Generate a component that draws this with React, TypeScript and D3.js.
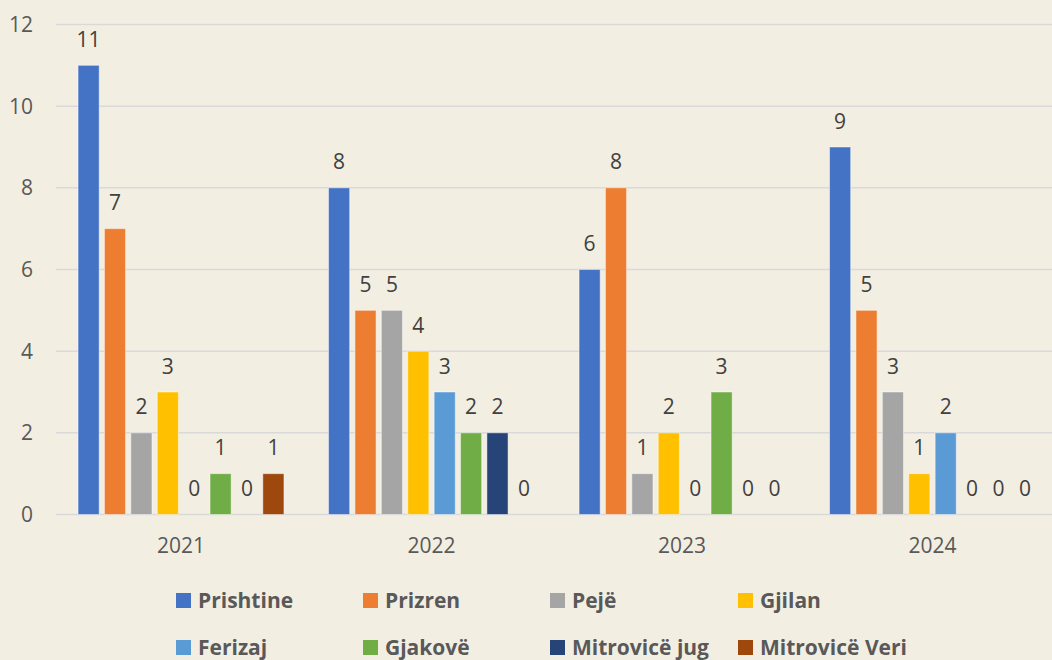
import * as d3 from "d3";
import React, { useRef, useEffect } from "react";

const years = ["2021", "2022", "2023", "2024"];
const cities = ["Prishtine", "Prizren", "Pejë", "Gjilan", "Ferizaj", "Gjakovë", "Mitrovicë jug", "Mitrovicë Veri"];
const colors = ["#4472C4", "#ED7D31", "#A5A5A5", "#FFC000", "#5B9BD5", "#70AD47", "#264478", "#9E480E"];
// one row per year, one value per city
const counts = [
  [11, 7, 2, 3, 0, 1, 0, 1],
  [8, 5, 5, 4, 3, 2, 2, 0],
  [6, 8, 1, 2, 0, 3, 0, 0],
  [9, 5, 3, 1, 2, 0, 0, 0],
];
const yTicks = [0, 2, 4, 6, 8, 10, 12];

function App() {
  const ref = useRef<SVGSVGElement>(null);

  useEffect(() => {
    const svg = d3.select(ref.current);
    svg.selectAll("*").remove();
    draw(svg);
  }, []);

  const draw = (svg: any) => {
    const W = 1052, H = 660;
    const left = 55.75, right = 1057.75, top = 24.5, bottom = 514.5;
    const font = "'Open Sans', 'Liberation Sans', sans-serif";

    svg.append("rect").attr("width", W).attr("height", H).attr("fill", "#F3EEE2");

    const x0 = d3.scaleBand().domain(years).range([left, right]);
    const x1 = d3.scaleBand().domain(cities).range([0, x0.bandwidth()])
      .paddingInner(0.2).paddingOuter(0.845);
    const y = d3.scaleLinear().domain([0, 12]).range([bottom, top]);

    // gridlines
    svg.append("g").selectAll("line").data(yTicks).enter().append("line")
      .attr("x1", left).attr("x2", W)
      .attr("y1", (d: number) => y(d)).attr("y2", (d: number) => y(d))
      .attr("stroke", "#D9D9D9").attr("stroke-width", 1.5);

    // y labels
    svg.append("g").selectAll("text").data(yTicks).enter().append("text")
      .attr("x", 33).attr("y", (d: number) => y(d) + 7.5)
      .attr("text-anchor", "end")
      .style("font-family", font).style("font-size", "21px").style("fill", "#595959")
      .text((d: number) => d);

    // bars
    const groups = svg.append("g").selectAll("g").data(counts).enter().append("g")
      .attr("transform", (d: number[], i: number) => "translate(" + x0(years[i]) + ",0)");

    groups.selectAll("rect").data((d: number[]) => d).enter().append("rect")
      .attr("x", (d: number, i: number) => x1(cities[i]))
      .attr("width", x1.bandwidth())
      .attr("y", (d: number) => y(d))
      .attr("height", (d: number) => y(0) - y(d))
      .attr("fill", (d: number, i: number) => colors[i])
      .attr("stroke", (d: number) => (d > 0 ? "rgba(255,255,255,0.45)" : "none"))
      .attr("stroke-width", 1);

    groups.selectAll("text").data((d: number[]) => d).enter().append("text")
      .attr("x", (d: number, i: number) => (x1(cities[i]) as number) + x1.bandwidth() / 2)
      .attr("y", (d: number) => y(d) - 18.5)
      .attr("text-anchor", "middle")
      .style("font-family", font).style("font-size", "21px").style("fill", "#404040")
      .text((d: number) => d);

    // year labels
    svg.append("g").selectAll("text").data(years).enter().append("text")
      .attr("x", (d: string) => (x0(d) as number) + x0.bandwidth() / 2)
      .attr("y", 553)
      .attr("text-anchor", "middle")
      .style("font-family", font).style("font-size", "21px").style("fill", "#595959")
      .text((d: string) => d);

    // legend, 4 per row
    const colX = [176, 363, 550, 738];
    const rowY = [608, 655];
    const leg = svg.append("g").selectAll("g").data(cities).enter().append("g")
      .attr("transform", (d: string, i: number) => "translate(" + colX[i % 4] + "," + rowY[Math.floor(i / 4)] + ")");
    leg.append("rect").attr("x", 0).attr("y", -15).attr("width", 15).attr("height", 15)
      .attr("fill", (d: string, i: number) => colors[i]);
    leg.append("text").attr("x", 22).attr("y", 0)
      .style("font-family", font).style("font-size", "21px").style("font-weight", "bold")
      .style("fill", "#595959")
      .text((d: string) => d);
  };

  return (
    <div style={{ position: "fixed", left: 0, top: 0 }}>
      <svg ref={ref} width={1052} height={660} style={{ display: "block" }}></svg>
    </div>
  );
}

export default App;
